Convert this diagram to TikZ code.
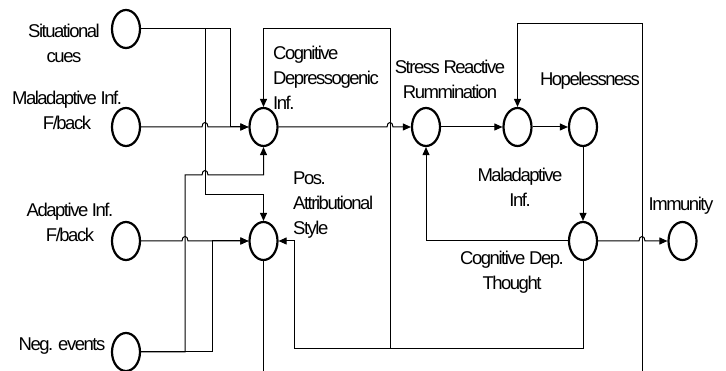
\documentclass[tikz,border=0pt]{standalone}
\usepackage{fontspec}
\setmainfont{Liberation Sans}[LetterSpace=-8]
\usetikzlibrary{arrows.meta,shapes.geometric}
\begin{document}
\begin{tikzpicture}[x=1pt,y=-1pt,
  st/.style={draw, ellipse, line width=2.2pt, fill=white, minimum width=28pt, minimum height=38pt, inner sep=0pt},
  lbl/.style={font=\fontsize{18.5}{25}\selectfont, inner sep=0pt, anchor=base},
  conn/.style={line width=1pt},
  arr/.style={conn, -{Triangle[length=8pt,width=7pt]}}]
\useasboundingbox (0,0) rectangle (726,371);
\fill[white] (0,0) rectangle (726,371);
\clip (0,0) rectangle (726,371);
% states
\node[st] (sit) at (126,29) {};
\node[st] (mal) at (126,127) {};
\node[st] (ada) at (126,241) {};
\node[st] (neg) at (126,352) {};
\node[st] (cdi) at (263.5,127) {};
\node[st] (pas) at (263.5,241) {};
\node[st] (srr) at (426,127) {};
\node[st] (mi)  at (517.5,127) {};
\node[st] (hop) at (583,127) {};
\node[st] (cdt) at (583,241) {};
\node[st] (imm) at (682.5,241) {};
% labels (anchor = baseline of the last line)
\node[lbl, align=center] (lsit) at (64,63) {Situational\\cues};
\node[lbl, align=center] (lmal) at (67,130) {Maladaptive Inf.\\F/back};
\node[lbl, align=center] (lada) at (70,242) {Adaptive Inf.\\F/back};
\node[lbl] (lneg) at (62,351) {Neg. events};
\node[lbl, align=left, anchor=base west] (lcdi) at (273,110) {Cognitive\\Depressogenic\\Inf.};
\node[lbl, align=left, anchor=base west] (lpas) at (293,235) {Pos.\\Attributional\\Style};
\node[lbl, align=center] (lsrr) at (450,99) {Stress Reactive\\Rummination};
\node[lbl] (lhop) at (590,86) {Hopelessness};
\node[lbl, align=center] (lmi) at (520,207) {Maladaptive\\Inf.};
\node[lbl, align=center] (lcdt) at (512,290) {Cognitive Dep.\\Thought};
\node[lbl] (limm) at (681,211) {Immunity};
% connectors
\draw[arr] (sit.east) -| (230,127) -- (cdi.west);
\draw[arr] (sit.east) -- (205,29) -- (205,195) -| (pas.north);
\draw[arr] (mal.east) -- (202,127) .. controls (202,121) and (208,121) .. (208,127) -- (cdi.west);
\draw[arr] (neg.east) -- (185,352) -- (185,175) -- (202,175) .. controls (202,169) and (208,169) .. (208,175) -| (cdi.south);
\draw[arr] (neg.east) -| (212,241) -- (pas.west);
\draw[arr] (ada.east) -- (182,241) .. controls (182,235) and (188,235) .. (188,241) -- (pas.west);
\draw[arr] (cdi.east) -- (387,127) .. controls (387,121) and (393,121) .. (393,127) -- (srr.west);
\draw[arr] (srr) -- (mi);
\draw[arr] (mi) -- (hop);
\draw[arr] (hop) -- (cdt);
\draw[arr] (cdt.east) -- (639,241) .. controls (639,235) and (645,235) .. (645,241) -- (imm.west);
\draw[arr] (cdt.west) -| (srr.south);
\draw[arr] (cdt.south) |- (294,349) |- (pas.east);
\draw[arr] (cdt.south) |- (390,349) -- (390,29) -| (cdi.north);
\draw[arr] (pas.south) -- (263.5,390) -| (642,24) -| (mi.north);
\end{tikzpicture}
\end{document}
